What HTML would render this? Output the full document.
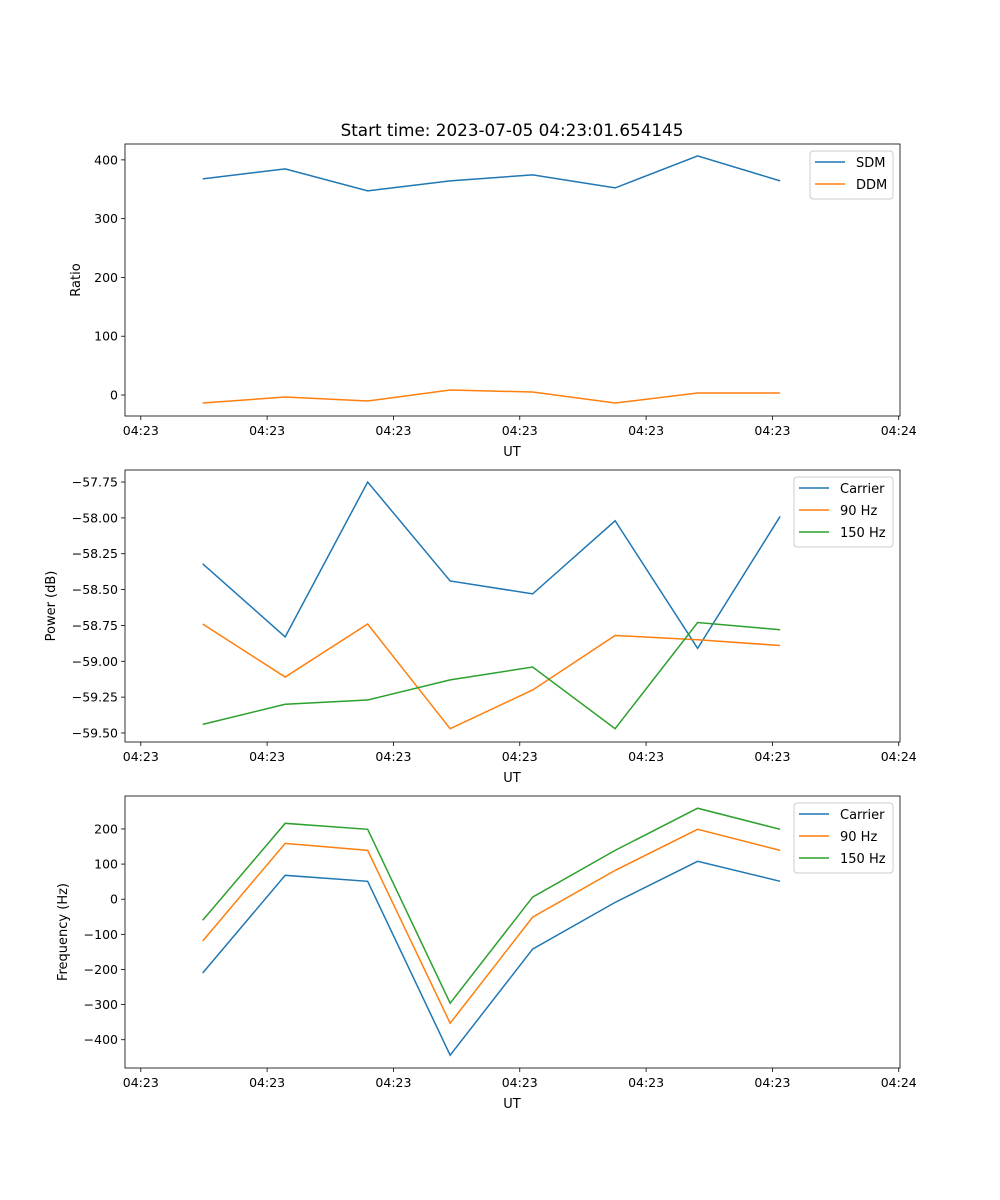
<!DOCTYPE html>
<html><head><meta charset="utf-8"><style>
body{margin:0;background:#fff}
svg{display:block;font-family:"DejaVu Sans","Liberation Sans",sans-serif}
</style></head><body>
<svg id="chart" width="1000" height="1200" viewBox="0 0 1000 1200"></svg>
<script>
const times=[0,0.653,1.306,1.959,2.612,3.265,3.918,4.571];
const xTicks=[-0.49,0.51,1.51,2.51,3.51,4.51,5.51];
const xTickLabels=["04:23","04:23","04:23","04:23","04:23","04:23","04:24"];
const sdm=[367.7,384.7,347.2,364.3,374.5,352.3,406.8,364.3];
const ddm=[-13.6,-3.4,-10.2,8.5,5.1,-13.6,3.4,3.4];
const ratioTicks=[0,100,200,300,400];
const powCarrier=[-58.32,-58.83,-57.75,-58.44,-58.53,-58.02,-58.91,-57.99];
const pow90=[-58.74,-59.11,-58.74,-59.47,-59.20,-58.82,-58.85,-58.89];
const pow150=[-59.44,-59.30,-59.27,-59.13,-59.04,-59.47,-58.73,-58.78];
const powTicks=[-59.5,-59.25,-59.0,-58.75,-58.5,-58.25,-58.0,-57.75];
const freqCarrier=[-210,68,51,-444,-142,-9,108,51];
const freq90=[-119,159,139,-353,-51,82,199,139];
const freq150=[-60,216,199,-296,6,139,259,199];
const freqTicks=[-400,-300,-200,-100,0,100,200];

const svg=document.getElementById('chart');
const NS='http://www.w3.org/2000/svg';
function mk(tag,attrs,parent){const e=document.createElementNS(NS,tag);for(const k in attrs)e.setAttribute(k,attrs[k]);parent.appendChild(e);return e;}
const X0=125,X1=900,XMIN=-0.615,XMAX=5.52;
const xs=t=>X0+(t-XMIN)/(XMAX-XMIN)*(X1-X0);
const C={b:'#1f77b4',o:'#ff7f0e',g:'#2ca02c'};

function panel(name,top,bot,ymin,ymax,ticks,fmt,ylabel,ylx,series,legend){
  const g=mk('g',{},svg);
  
  
  const ys=v=>bot-(v-ymin)/(ymax-ymin)*(bot-top);
  series.forEach(s=>{
    const p=mk('polyline',{points:s.vals.map((v,i)=>xs(times[i])+','+ys(v)).join(' '),fill:'none',stroke:s.c,'stroke-width':1.5},g);
    
    
  });
  const fr=mk('rect',{x:X0,y:top,width:X1-X0,height:bot-top,fill:'none',stroke:'#000','stroke-width':0.8},g);
  
  
  xTicks.forEach((t,i)=>{
    const x=xs(t);
    mk('line',{x1:x,x2:x,y1:bot,y2:bot+4,stroke:'#000','stroke-width':0.8},g);
    const tx=mk('text',{x:x,y:bot+19,'text-anchor':'middle','font-size':12.5},g);
    tx.textContent=xTickLabels[i];
    
    
  });
  ticks.forEach(v=>{
    const y=ys(v);
    mk('line',{x1:X0-4,x2:X0,y1:y,y2:y,stroke:'#000','stroke-width':0.8},g);
    const tx=mk('text',{x:X0-7,y:y+4.5,'text-anchor':'end','font-size':12.5},g);
    tx.textContent=fmt(v);
    
    
  });
  const xl=mk('text',{x:512,y:bot+40,'text-anchor':'middle','font-size':13},g);
  xl.textContent='UT';
  
  
  const cy=(top+bot)/2;
  const yl=mk('text',{x:ylx,y:cy,'text-anchor':'middle','font-size':13,transform:`rotate(-90 ${ylx} ${cy})`},g);
  yl.textContent=ylabel;
  
  
  const lg=mk('g',{},g);
  
  
  mk('rect',{x:legend.x,y:top+7,width:legend.w,height:series.length*22+4,rx:3,fill:'#fff',stroke:'#ccc','stroke-width':1},lg);
  series.forEach((s,i)=>{
    const y=top+18+i*22;
    mk('line',{x1:legend.x+5,x2:legend.x+35,y1:y,y2:y,stroke:s.c,'stroke-width':1.5},lg);
    const t=mk('text',{x:legend.x+46,y:y+5,'font-size':13},lg);
    t.textContent=s.label;
    
    
  });
}
const title=mk('text',{x:512,y:136,'text-anchor':'middle','font-size':16.8},svg);
title.textContent='Start time: 2023-07-05 04:23:01.654145';



panel('ratio',144,416,-35.7,427,ratioTicks,v=>String(v),'Ratio',80,
 [{id:'sdm',vals:sdm,c:C.b,label:'SDM'},{id:'ddm',vals:ddm,c:C.o,label:'DDM'}],{x:810,w:83});
panel('power',470,742,-59.563,-57.666,powTicks,v=>'\u2212'+Math.abs(v).toFixed(2),'Power (dB)',55,
 [{id:'carrier',vals:powCarrier,c:C.b,label:'Carrier'},{id:'90hz',vals:pow90,c:C.o,label:'90 Hz'},{id:'150hz',vals:pow150,c:C.g,label:'150 Hz'}],{x:794,w:99});
panel('frequency',796,1068,-480.5,293.8,freqTicks,v=>v<0?'\u2212'+Math.abs(v):String(v),'Frequency (Hz)',67,
 [{id:'carrier',vals:freqCarrier,c:C.b,label:'Carrier'},{id:'90hz',vals:freq90,c:C.o,label:'90 Hz'},{id:'150hz',vals:freq150,c:C.g,label:'150 Hz'}],{x:794,w:99});
</script>
</body></html>
